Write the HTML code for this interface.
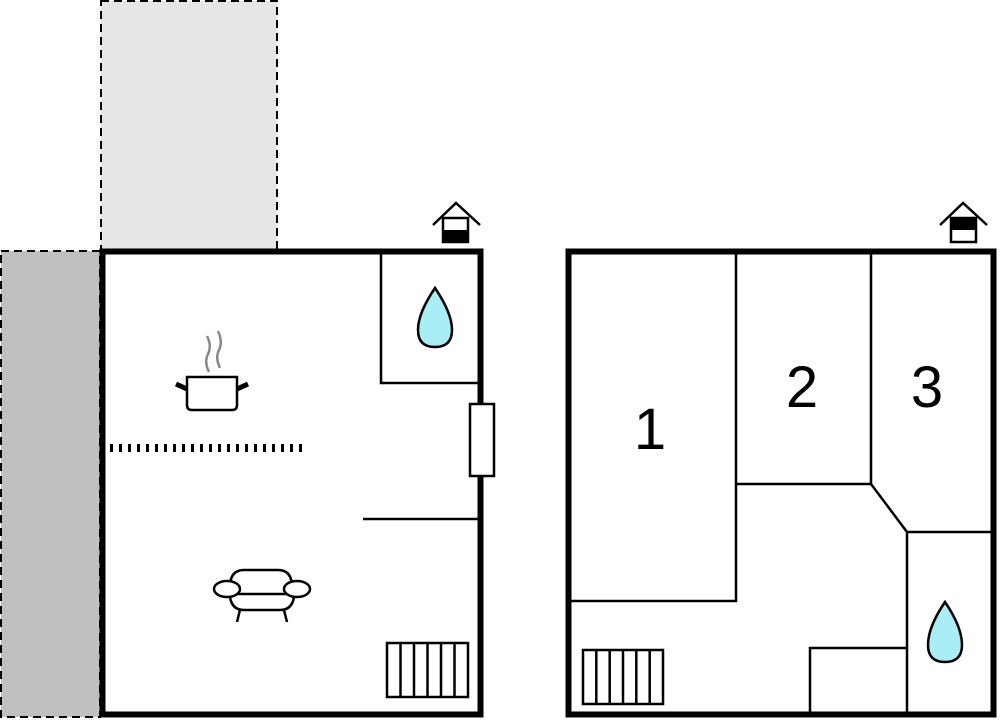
<!DOCTYPE html>
<html><head><style>body{margin:0;background:#fff}svg{display:block}</style></head>
<body>
<svg width="1000" height="720" viewBox="0 0 1000 720" xmlns="http://www.w3.org/2000/svg">
<rect x="101" y="1" width="176" height="249" fill="#e6e6e6" stroke="#000" stroke-width="2" stroke-dasharray="8,5"/>
<rect x="1" y="251" width="99" height="466" fill="#c0c0c0" stroke="#000" stroke-width="2" stroke-dasharray="8,5"/>
<g fill="none" stroke="#000">
<rect x="102.5" y="251.5" width="378" height="463" fill="#fff" stroke-width="6"/>
<path d="M381 252 V383 H481" stroke-width="2.5"/>
<path d="M363 519 H481" stroke-width="2.5"/>
<rect x="470" y="404" width="24" height="72" fill="#fff" stroke-width="2.5"/>
<line x1="110" y1="448" x2="306" y2="448" stroke-width="8" stroke-dasharray="3,6"/>
<rect x="387" y="643" width="81" height="54" stroke-width="2.5"/>
<path d="M400.5 643V697M414 643V697M427.5 643V697M441 643V697M454.5 643V697" stroke-width="2.5"/>
<path d="M187 377 H237 V405 Q237 410 232 410 H192 Q187 410 187 405 Z" stroke-width="2.5"/>
<path d="M176 384 L187 389 M248 384 L237 389" stroke-width="5"/>
<path d="M209 372 Q204 362 208 354 Q212 346 207 336 M220 368 Q215 358 219 350 Q223 342 218 331" stroke="#888" stroke-width="2.5"/>
<path d="M230 587 Q230 570 244 570 H278 Q292 570 292 587" stroke-width="2.5"/>
<ellipse cx="227" cy="589" rx="13" ry="8" fill="#fff" stroke-width="2.5"/>
<ellipse cx="297" cy="589" rx="13" ry="8" fill="#fff" stroke-width="2.5"/>
<path d="M237 594 H287 M230 597 Q232 610 244 610 H280 Q292 610 294 597" stroke-width="2.5"/>
<path d="M240 610 L237 622 M284 610 L287 622" stroke-width="2.5"/>
<path d="M435 288 Q418 313 418 330 Q418 347 435 347 Q452 347 452 330 Q452 313 435 288 Z" fill="#a8eef4" stroke-width="2.5"/>
<path d="M433 225 L456 203 L480 225" stroke-width="2.5"/>
<rect x="443" y="218" width="25" height="24" fill="#fff" stroke-width="2.5"/>
<rect x="443" y="230" width="25" height="12" fill="#000" stroke="none"/>
<rect x="568.5" y="251.5" width="425" height="463" fill="#fff" stroke-width="6"/>
<path d="M736 252 V601 H568" stroke-width="2.5"/>
<path d="M871 252 V484 H736 M871 484 L907 532 H995 M907 532 V716" stroke-width="2.5"/>
<path d="M810 716 V648 H907" stroke-width="2.5"/>
<rect x="583" y="650" width="80" height="54" stroke-width="2.5"/>
<path d="M596.3 650V704M609.7 650V704M623 650V704M636.3 650V704M649.7 650V704" stroke-width="2.5"/>
<path d="M945 602 Q928 627 928 645 Q928 662 945 662 Q962 662 962 645 Q962 627 945 602 Z" fill="#a8eef4" stroke-width="2.5"/>
<path d="M940 225 L963 203 L987 225" stroke-width="2.5"/>
<rect x="951" y="218" width="25" height="24" fill="#fff" stroke-width="2.5"/>
<rect x="951" y="218" width="25" height="12" fill="#000" stroke="none"/>
</g>
<g font-family="Liberation Sans, sans-serif" font-size="58" text-anchor="middle" fill="#000">
<text x="650" y="449">1</text>
<text x="802" y="407">2</text>
<text x="927" y="407">3</text>
</g>
</svg>
</body></html>
